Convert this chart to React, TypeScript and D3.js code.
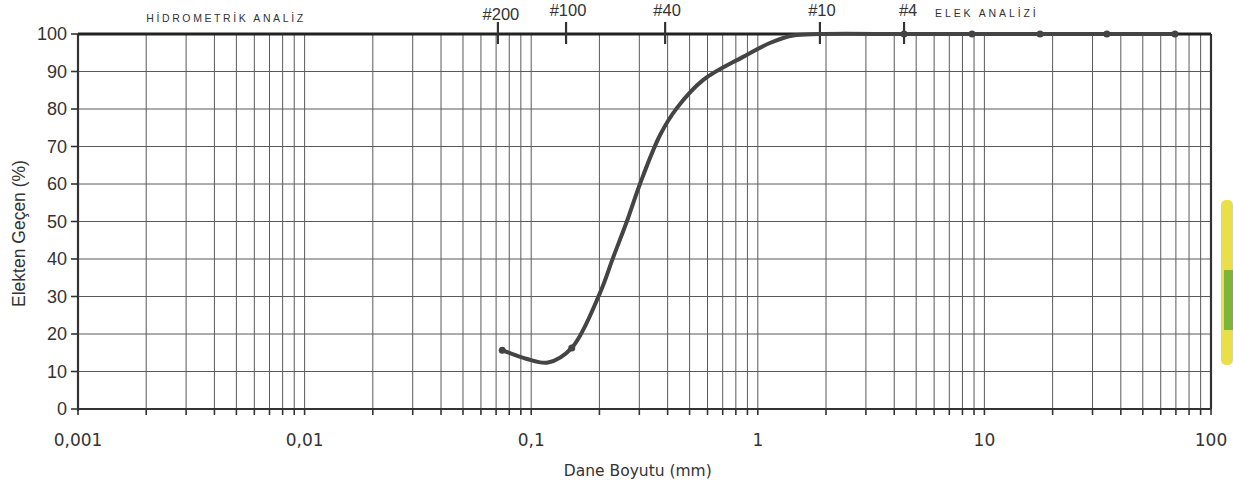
import * as d3 from "d3";
import React, { useEffect, useRef } from "react";

// grain size (mm) and percent passing
const sizes = [0.0745, 0.095, 0.1186, 0.151, 0.201, 0.2296, 0.265, 0.302, 0.37, 0.44, 0.573, 0.861, 1.13, 1.43, 1.88, 4.42, 8.82, 17.6, 34.7, 69.3];
const passing = [15.7, 13.4, 12.4, 16.3, 30.9, 40.3, 50.2, 60.0, 73.0, 80.3, 87.7, 93.9, 97.6, 99.6, 100, 100, 100, 100, 100, 100];

// marked points on the curve
const dotSizes = [0.0745, 0.151, 4.42, 8.82, 17.6, 34.7, 69.3];
const dotPassing = [15.7, 16.3, 100, 100, 100, 100, 100];

// sieve markers along the top border
const sieveNames = ["#200", "#100", "#40", "#10", "#4"];
const sieveSizes = [0.0713, 0.1425, 0.39, 1.88, 4.42];

const xTickValues = [0.001, 0.01, 0.1, 1, 10, 100];
const xTickLabels = ["0,001", "0,01", "0,1", "1", "10", "100"];
const yTickValues = [0, 10, 20, 30, 40, 50, 60, 70, 80, 90, 100];

export default function App() {
  const svgRef = useRef<SVGSVGElement>(null);

  useEffect(() => {
    const svg = d3.select(svgRef.current);
    svg.selectAll("*").remove();

    const width = 1233;
    const height = 493;
    const margin = { top: 34, right: 22, bottom: 84, left: 78 };
    const plotWidth = width - margin.left - margin.right;
    const plotHeight = height - margin.top - margin.bottom;

    const x = d3.scaleLog().domain([0.001, 100]).range([0, plotWidth]);
    const y = d3.scaleLinear().domain([0, 100]).range([plotHeight, 0]);

    svg.append("rect").attr("width", width).attr("height", height).attr("fill", "#fff");

    const g = svg.append("g").attr("transform", `translate(${margin.left},${margin.top})`);

    // minor values 1..9 per decade
    const minor: number[] = [];
    for (let e = -3; e < 2; e++) {
      for (let m = 1; m < 10; m++) minor.push(m * Math.pow(10, e));
    }
    minor.push(100);

    // vertical grid
    g.append("g")
      .selectAll("line")
      .data(minor)
      .join("line")
      .attr("x1", d => x(d))
      .attr("x2", d => x(d))
      .attr("y1", 0)
      .attr("y2", plotHeight)
      .attr("stroke", "#5a5a5a")
      .attr("stroke-width", 1);

    // horizontal grid
    g.append("g")
      .selectAll("line")
      .data(yTickValues)
      .join("line")
      .attr("x1", 0)
      .attr("x2", plotWidth)
      .attr("y1", d => y(d))
      .attr("y2", d => y(d))
      .attr("stroke", "#5a5a5a")
      .attr("stroke-width", 1);

    // x axis ticks (every minor line)
    g.append("g")
      .selectAll("line")
      .data(minor)
      .join("line")
      .attr("x1", d => x(d))
      .attr("x2", d => x(d))
      .attr("y1", plotHeight)
      .attr("y2", plotHeight + 6)
      .attr("stroke", "#333")
      .attr("stroke-width", 1.6);

    // y axis ticks
    g.append("g")
      .selectAll("line")
      .data(yTickValues)
      .join("line")
      .attr("x1", -7)
      .attr("x2", 0)
      .attr("y1", d => y(d))
      .attr("y2", d => y(d))
      .attr("stroke", "#333")
      .attr("stroke-width", 1.6);

    // frame
    g.append("line").attr("x1", 0).attr("x2", plotWidth).attr("y1", plotHeight).attr("y2", plotHeight)
      .attr("stroke", "#333").attr("stroke-width", 2);
    g.append("line").attr("x1", 0).attr("x2", 0).attr("y1", 0).attr("y2", plotHeight + 2)
      .attr("stroke", "#333").attr("stroke-width", 2.2);
    g.append("line").attr("x1", plotWidth).attr("x2", plotWidth).attr("y1", 0).attr("y2", plotHeight)
      .attr("stroke", "#333").attr("stroke-width", 2.2);
    g.append("line").attr("x1", 0).attr("x2", plotWidth).attr("y1", 0).attr("y2", 0)
      .attr("stroke", "#222").attr("stroke-width", 3);

    // tick labels
    g.append("g")
      .selectAll("text")
      .data(yTickValues)
      .join("text")
      .attr("x", -11)
      .attr("y", d => y(d))
      .attr("dy", "0.36em")
      .attr("text-anchor", "end")
      .style("font-family", "'Liberation Sans', Arial, sans-serif")
      .style("font-size", "18px")
      .attr("fill", "#333")
      .text(d => d);

    g.append("g")
      .selectAll("text")
      .data(xTickValues)
      .join("text")
      .attr("x", d => x(d))
      .attr("y", plotHeight + 37)
      .attr("text-anchor", "middle")
      .style("font-family", "'DejaVu Sans', Verdana, sans-serif")
      .style("font-size", "17px")
      .attr("fill", "#333")
      .text((d, i) => xTickLabels[i]);

    // axis titles
    g.append("text")
      .attr("x", x(1) - 120)
      .attr("y", plotHeight + 67)
      .attr("text-anchor", "middle")
      .style("font-family", "'DejaVu Sans', Verdana, sans-serif")
      .style("font-size", "15.5px")
      .attr("fill", "#333")
      .text("Dane Boyutu (mm)");

    svg.append("text")
      .attr("transform", `translate(25,${margin.top + plotHeight / 2 + 12}) rotate(-90)`)
      .attr("text-anchor", "middle")
      .style("font-family", "'Liberation Sans', Arial, sans-serif")
      .style("font-size", "17.5px")
      .attr("fill", "#333")
      .text("Elekten Geçen (%)");

    // section headers
    svg.append("text")
      .attr("x", 226)
      .attr("y", 22)
      .attr("text-anchor", "middle")
      .style("font-family", "'Liberation Sans', Arial, sans-serif")
      .style("font-size", "10.5px")
      .style("letter-spacing", "2.6px")
      .attr("fill", "#333")
      .text("HİDROMETRİK ANALİZ");

    svg.append("text")
      .attr("x", 935)
      .attr("y", 17)
      .style("font-family", "'Liberation Sans', Arial, sans-serif")
      .style("font-size", "10.5px")
      .style("letter-spacing", "2.9px")
      .attr("fill", "#333")
      .text("ELEK ANALİZİ");

    // sieve markers
    const sieve = g.append("g")
      .selectAll("g")
      .data(sieveSizes)
      .join("g")
      .attr("transform", d => `translate(${x(d)},0)`);

    sieve.append("line")
      .attr("y1", -12)
      .attr("y2", 10)
      .attr("stroke", "#333")
      .attr("stroke-width", 2.2);

    sieve.append("text")
      .attr("x", (d, i) => (i === 0 ? 3 : i === 4 ? 4 : 2))
      .attr("y", (d, i) => (i === 0 ? -14 : -18))
      .attr("text-anchor", "middle")
      .style("font-family", "'Liberation Sans', Arial, sans-serif")
      .style("font-size", "16.5px")
      .attr("fill", "#333")
      .text((d, i) => sieveNames[i]);

    // curve
    const pts = sizes.map((s, i) => [s, passing[i]] as [number, number]);
    const line = d3.line<[number, number]>()
      .x(d => x(d[0]))
      .y(d => y(d[1]))
      .curve(d3.curveCatmullRom.alpha(0.5));

    g.append("path")
      .datum(pts)
      .attr("fill", "none")
      .attr("stroke", "#444")
      .attr("stroke-width", 4)
      .attr("stroke-linecap", "round")
      .attr("d", line);

    g.append("g")
      .selectAll("circle")
      .data(dotSizes)
      .join("circle")
      .attr("cx", d => x(d))
      .attr("cy", (d, i) => y(dotPassing[i]))
      .attr("r", 3.5)
      .attr("fill", "#444");

    // colour patch at the right edge of the scan
    const patch = svg.append("g");
    patch.append("rect").attr("x", 1221).attr("y", 200).attr("width", 12).attr("height", 165)
      .attr("rx", 5).attr("fill", "#e9df4a");
    patch.append("rect").attr("x", 1224).attr("y", 270).attr("width", 9).attr("height", 60)
      .attr("fill", "#7fb43a");
  }, []);

  return (
    <div style={{ position: "fixed", left: 0, top: 0 }}>
      <svg ref={svgRef} width={1233} height={493} style={{ display: "block" }}></svg>
    </div>
  );
}
